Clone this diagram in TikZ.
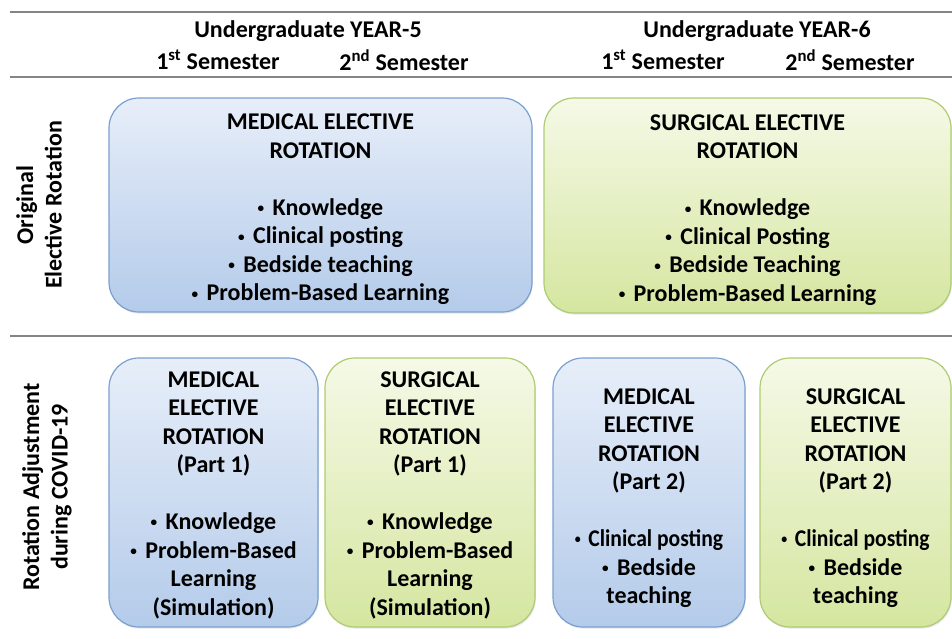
\documentclass[tikz,border=0pt]{standalone}
\usepackage{fontspec}
\usepackage{graphicx}
\setmainfont{Carlito}
\usetikzlibrary{shadows}

\definecolor{rulegray}{HTML}{858585}
\definecolor{blueTop}{HTML}{E7EEF9}
\definecolor{blueBot}{HTML}{B4CBEA}
\definecolor{blueEdge}{HTML}{7AA0CF}
\definecolor{greenTop}{HTML}{F5F9E7}
\definecolor{greenBot}{HTML}{D5E6A0}
\definecolor{greenEdge}{HTML}{AECB72}

\newcommand{\txtsize}{\bfseries\fontsize{24}{28.5}\selectfont}
% small list bullet followed by a gap
\newcommand{\bul}{\raisebox{0.12em}{\scalebox{0.55}{•}}\hspace{0.35em}}
% invisible strut that pushes a card's text block down
\newcommand{\topgap}[1]{\rule{0pt}{#1}}

\tikzset{
  card/.style={rounded corners=30pt, line width=1.2pt, inner sep=0pt,
    align=center, font=\txtsize,
    drop shadow={opacity=0.18, shadow xshift=0.8pt, shadow yshift=-1.6pt}},
  medcard/.style={card, draw=blueEdge, top color=blueTop, bottom color=blueBot},
  surgcard/.style={card, draw=greenEdge, top color=greenTop, bottom color=greenBot},
  rulebar/.style={draw=rulegray, line width=2.4pt},
  head/.style={font=\txtsize, inner sep=0pt, align=center},
}

\begin{document}
\begin{tikzpicture}[x=1pt, y=-1pt]
\useasboundingbox (0,0) rectangle (952,639);

% horizontal rules
\coordinate (r1a) at (10,12);  \coordinate (r1b) at (952,12);
\coordinate (r2a) at (10,77);  \coordinate (r2b) at (952,77);
\coordinate (r3a) at (10,336); \coordinate (r3b) at (952,336);
\draw[rulebar] (r1a) -- (r1b);
\draw[rulebar] (r2a) -- (r2b);
\draw[rulebar] (r3a) -- (r3b);

% column headings
\node[head] (y5)  at (308,31) {Undergraduate YEAR-5};
\node[head] (y5a) at (218,60) {1\textsuperscript{st} Semester};
\node[head] (y5b) at (404,60) {2\textsuperscript{nd} Semester};
\node[head] (y6)  at (757,31) {Undergraduate YEAR-6};
\node[head] (y6a) at (663,60) {1\textsuperscript{st} Semester};
\node[head] (y6b) at (850,60) {2\textsuperscript{nd} Semester};

% row headings
\node[head, rotate=90] (rowA) at (39,205) {Original\\Elective Rotation};
\node[head, rotate=90] (rowB) at (47,487) {Rotation Adjustment\\during COVID-19};

% original rotations
\node[medcard, minimum width=423pt, minimum height=214pt] (medA) at (320.5,205)
  {\topgap{25pt}MEDICAL ELECTIVE\\ROTATION\\[28.5pt]
   \bul Knowledge\\\bul Clinical posting\\\bul Bedside teaching\\\bul Problem-Based Learning};
\node[surgcard, minimum width=407pt, minimum height=215pt] (surA) at (747.5,205.5)
  {\topgap{25pt}SURGICAL ELECTIVE\\ROTATION\\[28.5pt]
   \bul Knowledge\\\bul Clinical Posting\\\bul Bedside Teaching\\\bul Problem-Based Learning};

% adjusted rotations
\node[medcard, minimum width=209pt, minimum height=269pt] (medP1) at (213.5,492.5)
  {\topgap{21pt}MEDICAL\\ELECTIVE\\ROTATION\\(Part 1)\\[28.5pt]
   \bul Knowledge\\\bul Problem-Based\\Learning\\(Simulation)};
\node[surgcard, minimum width=210pt, minimum height=269pt] (surP1) at (430,492.5)
  {\topgap{21pt}SURGICAL\\ELECTIVE\\ROTATION\\(Part 1)\\[28.5pt]
   \bul Knowledge\\\bul Problem-Based\\Learning\\(Simulation)};
\node[medcard, minimum width=192pt, minimum height=269pt] (medP2) at (649,492.5)
  {\topgap{27pt}MEDICAL\\ELECTIVE\\ROTATION\\(Part 2)\\[28.5pt]
   \scalebox{0.9}[1]{\bul Clinical posting}\\\bul Bedside\\teaching};
\node[surgcard, minimum width=191pt, minimum height=269pt] (surP2) at (855.5,492.5)
  {\topgap{27pt}SURGICAL\\ELECTIVE\\ROTATION\\(Part 2)\\[28.5pt]
   \scalebox{0.9}[1]{\bul Clinical posting}\\\bul Bedside\\teaching};
\end{tikzpicture}
\end{document}
